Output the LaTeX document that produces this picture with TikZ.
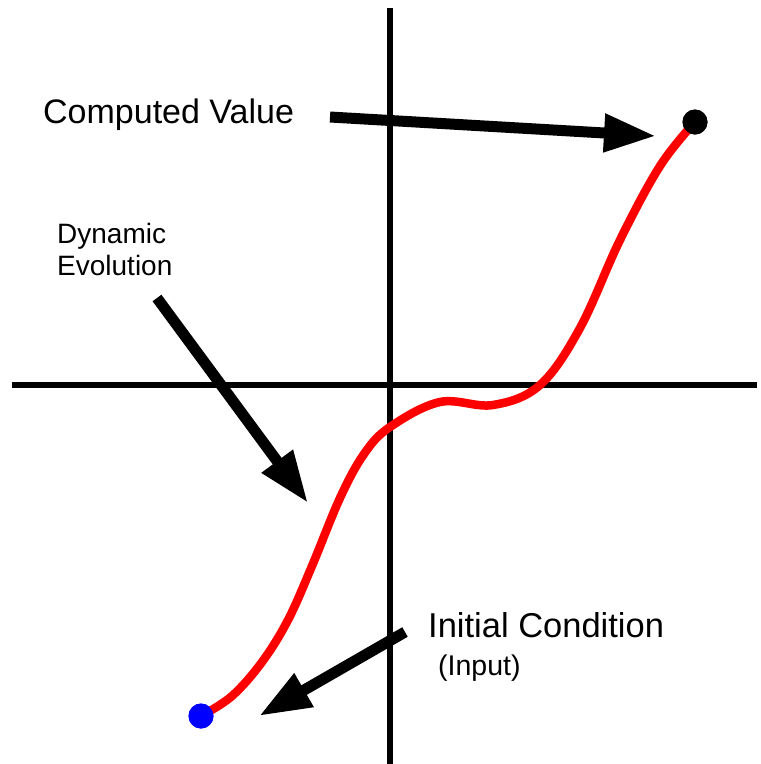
\documentclass[tikz,border=0pt]{standalone}
\usepackage{fontspec}
\setmainfont{Liberation Sans}
\usetikzlibrary{arrows.meta}

\begin{document}
\begin{tikzpicture}[x=1pt,y=-1pt,
  ax/.style={line width=6.5pt,black},
  ar/.style={line width=11pt,-{Triangle[length=52pt,width=36pt]}},
  lb/.style={anchor=base west,inner sep=0pt,align=left},
  dot/.style={circle,inner sep=0pt,minimum size=25pt}]
\useasboundingbox (0,0) rectangle (761,764);
% axes
\draw[ax] (390,8) -- (390,764);
\draw[ax] (12,385) -- (757,385);
% trajectory
\node[dot,fill=blue]  (init)  at (201,716) {};
\node[dot,fill=black] (final) at (695,122) {};
\draw[red,line width=8.5pt] plot[smooth,tension=0.6] coordinates {(init.center) (232,696) (262,662)
  (288,620) (312,566) (340,498) (364,454) (390,427) (440,402) (493,405) (540,385) (580,328)
  (620,240) (660,166) (final.center)};
\node[dot,fill=blue]  at (init) {};
\node[dot,fill=black] at (final) {};
% labels
\node[lb,font=\fontsize{34}{38}\selectfont] (cv) at (43,123) {Computed Value};
\node[lb,font=\fontsize{28}{32}\selectfont] (de) at (57,275) {Dynamic\\Evolution};
\node[lb,font=\fontsize{34.5}{38}\selectfont] (ic) at (428,637) {Initial Condition};
\node[lb,font=\fontsize{28.5}{32}\selectfont] (inp) at (438,675) {(Input)};
% arrows
\coordinate (cvtail) at (330,117); \coordinate (cvtip) at (656,136);
\coordinate (detail) at (157,298); \coordinate (detip) at (308,503);
\coordinate (ictail) at (405,632); \coordinate (ictip) at (259,716);
\draw[ar] (cvtail) -- (cvtip);
\draw[ar] (detail) -- (detip);
\draw[ar] (ictail) -- (ictip);
\end{tikzpicture}
\end{document}
